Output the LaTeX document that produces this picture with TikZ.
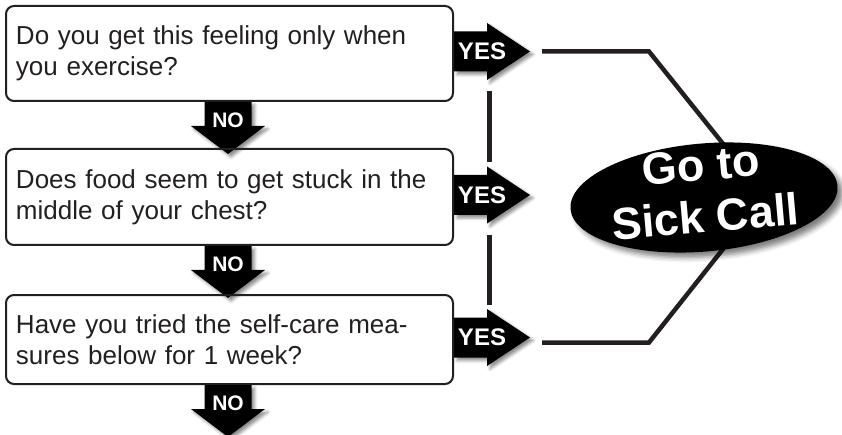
\documentclass[tikz,border=0pt]{standalone}
\usepackage{fontspec}
\setmainfont{Liberation Sans}
\usetikzlibrary{shapes.geometric,calc,shadows.blur}
\definecolor{ink}{HTML}{231F20}
\tikzset{
  qbox/.style={draw=ink, line width=2pt, rounded corners=8pt, anchor=north west,
    minimum width=447pt, text width=427pt, inner xsep=10pt, inner ysep=0pt,
    align=left, text=ink, font=\fontsize{26}{31}\selectfont},
  tag/.style={fill=black, blur shadow={shadow xshift=3pt, shadow yshift=-3pt,
    shadow blur radius=3pt, shadow opacity=45}},
  tagtext/.style={text=white, inner sep=0pt, font=\bfseries\fontsize{24}{24}\selectfont},
  notext/.style={tagtext, font=\bfseries\fontsize{21}{21}\selectfont},
  link/.style={draw=ink, line width=4.5pt},
}
\begin{document}
\begin{tikzpicture}[x=1pt,y=-1pt]
  \useasboundingbox (0,0) rectangle (842,435);
  \foreach \ya/\yb/\q [count=\i] in {5/100/{Do you get this feeling only when\\you exercise?},
    148/244/{Does food seem to get stuck in the\\middle of your chest?},
    294/383/{Have you tried the self-care mea-\\sures below for 1 week?}}
  {\node[qbox, minimum height=\yb-\ya] (q\i) at (5,\ya) {\q};
  % NO arrow
  \fill[tag] ($(q\i.south)+(-1.5,0)$) ++(-23.5,0) -- ++(0,24) -- ++(-13.5,0)
    -- ++(37,28) -- ++(37,-28) -- ++(-13.5,0) -- ++(0,-24) -- cycle;
  \node[notext] (no\i) at ($(q\i.south)+(-1.5,18)$) {NO};
  % YES arrow
  \coordinate (e\i) at ($(q\i.east)+(0,-2)$);
  \fill[tag] (e\i) ++(0,-20) -- ++(33,0) -- ++(0,-8.5) -- ++(43,28.5)
    -- ++(-43,28.5) -- ++(0,-8.5) -- ++(-33,0) -- cycle;
  \node[tagtext] (yes\i) at ($(e\i)+(28,0)$) {YES};
  \coordinate (v\i) at ($(e\i)+(35.5,0)$);
  \coordinate (t\i) at ($(e\i)+(88,0)$);}
  \draw[link] ($(v1)+(0,40)$) -- ($(v2)+(0,-33)$);
  \draw[link] ($(v2)+(0,40)$) -- ($(v3)+(0,-33)$);
  \coordinate (c0) at (704,197.5);
  \draw[link] (t1) -- ++(107,0) -- ($(c0)+(22,-50)$);
  \draw[link] ($(t3)+(0,5)$) -- ++(107,0) -- ($(c0)+(21,49)$);
  \node[ellipse, fill=black, minimum width=268, minimum height=108, rotate=5,
    blur shadow={shadow xshift=5pt, shadow yshift=-5pt, shadow blur radius=5pt,
    shadow opacity=50}] (call) at (c0) {};
  \node[text=white, align=center, rotate=5, inner sep=0pt,
    font=\bfseries\fontsize{45}{52}\selectfont] (calltext) at (703,191) {Go to\\Sick Call};
\end{tikzpicture}
\end{document}
